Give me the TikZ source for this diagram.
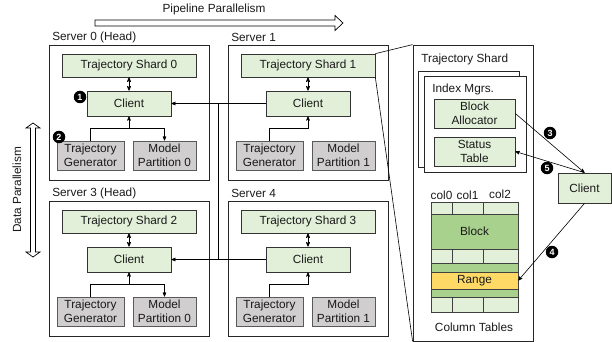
\documentclass[tikz,border=0pt]{standalone}
\usepackage{fontspec}
\setmainfont{Liberation Sans}
\usetikzlibrary{arrows,positioning,calc}
\definecolor{shardgreen}{HTML}{E2F0D9}
\definecolor{blockgreen}{HTML}{A9D18E}
\definecolor{gengray}{HTML}{D0CECE}
\definecolor{rangeyellow}{HTML}{FFD966}
\tikzset{
  srvbox/.style   = {draw=black!85, line width=0.8pt,
                     minimum width=160pt, minimum height=135pt},
  shardbox/.style = {draw=black!80, fill=shardgreen, line width=0.7pt,
                     align=center, inner sep=1pt},
  genbox/.style   = {draw=black!65, fill=gengray, line width=1pt,
                     align=center, inner sep=1pt},
  lbl/.style      = {inner sep=0pt},
  cell/.style     = {draw=black!75, line width=0.6pt, fill=shardgreen},
  blk/.style      = {draw=black!75, line width=0.6pt, fill=blockgreen},
  badge/.style    = {circle, fill=black, text=white, inner sep=0pt,
                     minimum size=12.5pt, font=\bfseries\fontsize{9}{9}\selectfont}
}
\newcommand{\drawserver}[6]{%
  \begin{scope}[shift={(#2,#3)}]
    \node [srvbox] (#1box) at (129,112.5) {};
    \node [lbl, anchor=west] (#1lbl) at (52,37) {#4};
    \node [shardbox, minimum width=134pt, minimum height=23pt] (#1shard) at (129,65.5) {#5};
    \node [shardbox, minimum width=84pt, minimum height=25pt] (#1client) at (129,103.5) {Client};
    \node [genbox, minimum width=67pt, minimum height=29pt] (#1gen) at (90.5,155.5) {Trajectory\\Generator};
    \node [genbox, minimum width=63pt, minimum height=29pt] (#1part) at (164.5,155.5) {Model\\Partition #6};
    \coordinate (#1jn) at (129,128.5);
    \draw [<->, line width=0.7pt] (#1shard) -- (#1client);
    \draw [->] (#1gen.north) |- (#1jn) -- (#1client.south);
  \end{scope}}

\begin{document}
\begin{tikzpicture}[x=1pt, y=-1pt, >=stealth', line width=0.6pt,
  font=\fontsize{11.8}{13.8}\selectfont, text=black!90]
\useasboundingbox (0,0) rectangle (612,342);

% parallelism arrows
\node [lbl] (pipe) at (214,9) {Pipeline Parallelism};
\draw [line width=0.7pt] (95,20) -- (335,20) -- (335,15.5) -- (343,23) -- (335,30.5)
  -- (335,26) -- (95,26) -- cycle;
\node [lbl, rotate=90] (data) at (17,190) {Data Parallelism};
\draw [line width=0.7pt] (30.5,252) -- (30.5,128) -- (26,128) -- (33,123) -- (40,128)
  -- (35.5,128) -- (35.5,252) -- (40,252) -- (33,257) -- (26,252) -- cycle;

% servers
\drawserver{s0}{0}{0}{Server 0 (Head)}{Trajectory Shard 0}{0}
\drawserver{s1}{179}{0}{Server 1}{Trajectory Shard 1}{1}
\drawserver{s3}{0}{156}{Server 3 (Head)}{Trajectory Shard 2}{0}
\drawserver{s4}{179}{156}{Server 4}{Trajectory Shard 3}{1}
\draw [->] (s0jn) -| (s0part.north);
\draw [->] (s3jn) -| (s3part.north);
\node [badge] (b1) at (80,97) {1};
\node [badge] (b2) at (59,137) {2};

% links between clients
\draw [->] (s1client.west) -- (s0client.east);
\draw [->] (s4client.west) -- (s3client.east);
\coordinate (bustop) at (218.5,103.5);
\coordinate (busbot) at (218.5,259.5);
\draw (bustop) -- (busbot);

% zoomed trajectory shard
\node [srvbox, minimum width=120pt, minimum height=296pt] (panel) at (473,193) {};
\draw (s1shard.north east) -- (panel.north west);
\draw (s1shard.south east) -- (panel.south west);
\node [lbl, anchor=west] (ptitle) at (421,59) {Trajectory Shard};
\draw [draw=black!85, fill=white, line width=0.8pt] (418,71) rectangle (519,167);
\node [srvbox, fill=white, minimum width=102pt, minimum height=96pt] (idx) at (475,124) {};
\node [lbl, anchor=west] (idxlbl) at (432,89) {Index Mgrs.};
\node [shardbox, minimum width=81pt, minimum height=29pt] (alloc) at (474.5,113.5) {Block\\Allocator};
\node [shardbox, minimum width=81pt, minimum height=29pt] (status) at (474.5,151.5) {Status\\Table};

% column tables
\node [lbl] (c0) at (441.5,195) {col0};
\node [lbl] (c1) at (467.5,195) {col1};
\node [lbl] (c2) at (500,194) {col2};
\foreach \ya/\yb in {202/214,249/263,297/312} {
  \draw [cell] (431,\ya) rectangle (452,\yb);
  \draw [cell] (452,\ya) rectangle (483,\yb);
  \draw [cell] (483,\ya) rectangle (518,\yb);
}
\node [blk, minimum width=87pt, minimum height=35pt] (block) at (474.5,231.5) {Block};
\draw [blk] (431,263) rectangle (518,272);
\draw [blk] (431,289) rectangle (518,297);
\node [draw=black!75, line width=0.6pt, fill=rangeyellow, minimum width=87pt,
  minimum height=17pt, inner sep=0pt] (range) at (474.5,280.5) {Range};
\node [lbl] (ctlbl) at (474,327) {Column Tables};

% outer client
\node [shardbox, minimum width=53pt, minimum height=30pt] (rc) at (584.5,188) {Client};
\draw [->] (alloc.east) -- (rc.north);
\draw [->] (rc.north) -- (status.east);
\draw [->] (rc.south) -- (range.east);
\node [badge] (b3) at (550,133) {3};
\node [badge] (b5) at (547,168) {5};
\node [badge] (b4) at (552,252) {4};
\end{tikzpicture}
\end{document}
